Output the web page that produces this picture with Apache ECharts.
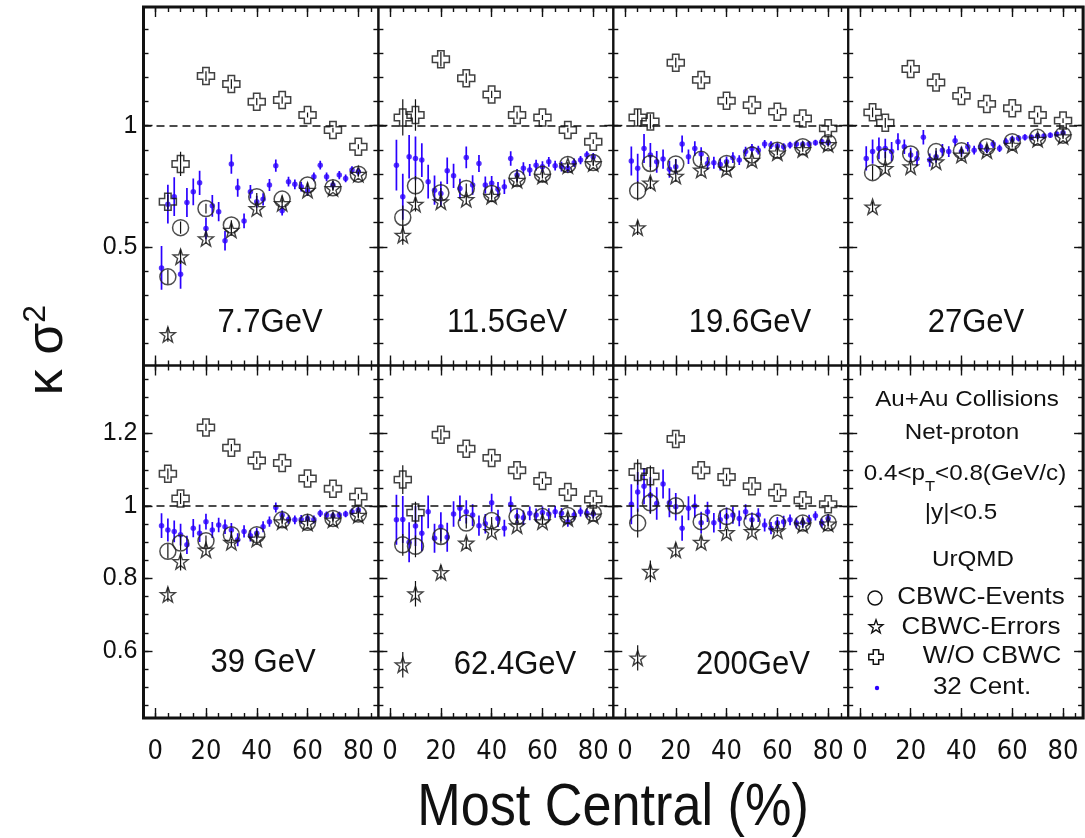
<!DOCTYPE html>
<html><head><meta charset="utf-8">
<script src="https://cdn.jsdelivr.net/npm/echarts@6/dist/echarts.min.js"></script>
<style>html,body{margin:0;padding:0;background:#fff}#c{width:1085px;height:838px}</style>
</head><body><div id="c"></div>
<script>
// ---------------- DATA ----------------
const centBins = [5, 10, 20, 30, 40, 50, 60, 70, 80];
const cent32 = [2.5, 5, 7.5, 10, 12.5, 15, 17.5, 20, 22.5, 25, 27.5, 30, 32.5, 35, 37.5, 40,
                42.5, 45, 47.5, 50, 52.5, 55, 57.5, 60, 62.5, 65, 67.5, 70, 72.5, 75, 77.5, 80];
const energyLabels = ['7.7GeV', '11.5GeV', '19.6GeV', '27GeV', '39 GeV', '62.4GeV', '200GeV'];
const xMajorTicks = [0, 20, 40, 60, 80];
const xMinorTicks = [0, 5, 10, 15, 20, 25, 30, 35, 40, 45, 50, 55, 60, 65, 70, 75, 80, 85];
const yTopLabels = [0.5, 1];
const yTopTicks = [0.1, 0.2, 0.3, 0.4, 0.5, 0.6, 0.7, 0.8, 0.9, 1.0, 1.1, 1.2, 1.3, 1.4];
const yBotLabels = [0.6, 0.8, 1, 1.2];
const yBotTicks = [0.45, 0.5, 0.55, 0.6, 0.65, 0.7, 0.75, 0.8, 0.85, 0.9, 0.95, 1.0, 1.05, 1.1, 1.15, 1.2, 1.25, 1.3, 1.35];

// 7.7 GeV
const ev_7p7 = [0.376, 0.579, 0.658, 0.590, 0.707, 0.697, 0.755, 0.744, 0.800];
const evErr_7p7 = [0.03, 0.025, 0.02, 0.02, 0.015, 0.015, 0.01, 0.01, 0.01];
const er_7p7 = [0.138, 0.459, 0.534, 0.569, 0.658, 0.679, 0.734, 0.741, 0.800];
const erErr_7p7 = [0.03, 0.03, 0.02, 0.02, 0.015, 0.015, 0.01, 0.01, 0.01];
const wo_7p7 = [0.686, 0.842, 1.205, 1.172, 1.099, 1.106, 1.044, 0.982, 0.913];
const woErr_7p7 = [0.03, 0.05, 0.02, 0.02, 0.015, 0.015, 0.01, 0.01, 0.01];
const c32_7p7 = [0.413, 0.676, 0.707, 0.387, 0.683, 0.727, 0.764, 0.576, 0.669, 0.645, 0.525, 0.842, 0.744, 0.607, 0.727, 0.686,
                 0.696, 0.755, 0.835, 0.649, 0.769, 0.758, 0.748, 0.731, 0.789, 0.837, 0.789, 0.755, 0.796, 0.782, 0.817, 0.810];
const c32Err_7p7 = [0.09, 0.08, 0.08, 0.06, 0.06, 0.055, 0.05, 0.045, 0.045, 0.04, 0.04, 0.04, 0.037, 0.03, 0.028, 0.025,
                    0.025, 0.025, 0.025, 0.02, 0.02, 0.02, 0.02, 0.02, 0.018, 0.018, 0.018, 0.017, 0.017, 0.016, 0.016, 0.015];

// 11.5 GeV
const ev_11p5 = [0.621, 0.752, 0.723, 0.741, 0.720, 0.782, 0.800, 0.840, 0.848];
const evErr_11p5 = [0.05, 0.04, 0.02, 0.02, 0.015, 0.015, 0.01, 0.01, 0.01];
const er_11p5 = [0.548, 0.676, 0.686, 0.696, 0.709, 0.775, 0.792, 0.835, 0.844];
const erErr_11p5 = [0.04, 0.03, 0.02, 0.02, 0.015, 0.015, 0.01, 0.01, 0.01];
const wo_11p5 = [1.034, 1.044, 1.274, 1.196, 1.129, 1.044, 1.034, 0.982, 0.934];
const woErr_11p5 = [0.075, 0.065, 0.03, 0.02, 0.015, 0.015, 0.01, 0.01, 0.01];
const c32_11p5 = [0.837, 0.707, 0.872, 0.865, 0.858, 0.769, 0.734, 0.720, 0.814, 0.793, 0.741, 0.869, 0.755, 0.844, 0.755, 0.762,
                  0.738, 0.748, 0.865, 0.796, 0.824, 0.817, 0.837, 0.831, 0.851, 0.835, 0.831, 0.824, 0.847, 0.858, 0.879, 0.872];
const c32Err_11p5 = [0.105, 0.095, 0.09, 0.09, 0.07, 0.07, 0.06, 0.05, 0.055, 0.05, 0.04, 0.045, 0.04, 0.035, 0.035, 0.03,
                     0.03, 0.03, 0.03, 0.025, 0.025, 0.025, 0.022, 0.022, 0.02, 0.02, 0.02, 0.018, 0.018, 0.017, 0.016, 0.015];

// 19.6 GeV
const ev_19p6 = [0.731, 0.844, 0.842, 0.861, 0.844, 0.879, 0.899, 0.913, 0.930];
const evErr_19p6 = [0.04, 0.03, 0.02, 0.015, 0.015, 0.01, 0.01, 0.01, 0.01];
const er_19p6 = [0.579, 0.764, 0.792, 0.817, 0.821, 0.858, 0.888, 0.902, 0.923];
const erErr_19p6 = [0.03, 0.025, 0.02, 0.015, 0.015, 0.01, 0.01, 0.01, 0.01];
const wo_19p6 = [1.034, 1.017, 1.260, 1.189, 1.103, 1.085, 1.058, 1.030, 0.989];
const woErr_19p6 = [0.035, 0.03, 0.02, 0.015, 0.015, 0.01, 0.01, 0.01, 0.01];
const c32_19p6 = [0.854, 0.824, 0.906, 0.879, 0.851, 0.862, 0.820, 0.831, 0.924, 0.872, 0.906, 0.883, 0.844, 0.847, 0.840, 0.851,
                  0.868, 0.858, 0.893, 0.906, 0.899, 0.924, 0.920, 0.916, 0.913, 0.920, 0.924, 0.923, 0.924, 0.930, 0.934, 0.930];
const c32Err_19p6 = [0.06, 0.06, 0.06, 0.05, 0.045, 0.04, 0.035, 0.03, 0.035, 0.03, 0.03, 0.028, 0.027, 0.025, 0.025, 0.022,
                     0.022, 0.02, 0.02, 0.018, 0.018, 0.017, 0.016, 0.015, 0.015, 0.014, 0.014, 0.013, 0.013, 0.012, 0.012, 0.012];

// 27 GeV
const ev_27 = [0.806, 0.872, 0.883, 0.893, 0.897, 0.913, 0.934, 0.952, 0.961];
const evErr_27 = [0.03, 0.02, 0.015, 0.015, 0.01, 0.01, 0.01, 0.01, 0.01];
const er_27 = [0.665, 0.824, 0.831, 0.851, 0.879, 0.897, 0.920, 0.944, 0.955];
const erErr_27 = [0.02, 0.02, 0.015, 0.015, 0.01, 0.01, 0.01, 0.01, 0.01];
const wo_27 = [1.055, 1.012, 1.234, 1.178, 1.123, 1.090, 1.072, 1.044, 1.021];
const woErr_27 = [0.02, 0.02, 0.015, 0.015, 0.01, 0.01, 0.01, 0.01, 0.01];
const c32_27 = [0.865, 0.893, 0.906, 0.906, 0.893, 0.934, 0.913, 0.879, 0.865, 0.952, 0.858, 0.872, 0.899, 0.893, 0.938, 0.893,
                0.913, 0.899, 0.913, 0.902, 0.924, 0.906, 0.934, 0.944, 0.948, 0.952, 0.952, 0.957, 0.957, 0.961, 0.966, 0.971];
const c32Err_27 = [0.05, 0.05, 0.045, 0.04, 0.04, 0.035, 0.03, 0.03, 0.03, 0.03, 0.027, 0.025, 0.025, 0.022, 0.022, 0.02,
                   0.02, 0.018, 0.018, 0.016, 0.016, 0.015, 0.015, 0.014, 0.013, 0.013, 0.012, 0.012, 0.011, 0.011, 0.01, 0.01];

// 39 GeV
const ev_39 = [0.875, 0.898, 0.904, 0.921, 0.921, 0.962, 0.955, 0.966, 0.978];
const evErr_39 = [0.02, 0.02, 0.015, 0.01, 0.01, 0.008, 0.008, 0.008, 0.008];
const er_39 = [0.756, 0.847, 0.879, 0.900, 0.909, 0.957, 0.953, 0.962, 0.975];
const erErr_39 = [0.02, 0.025, 0.015, 0.01, 0.01, 0.008, 0.008, 0.008, 0.008];
const wo_39 = [1.089, 1.021, 1.217, 1.161, 1.126, 1.119, 1.076, 1.048, 1.026];
const woErr_39 = [0.015, 0.015, 0.01, 0.01, 0.01, 0.008, 0.008, 0.008, 0.008];
const c32_39 = [0.946, 0.934, 0.930, 0.921, 0.893, 0.939, 0.925, 0.957, 0.934, 0.948, 0.943, 0.934, 0.907, 0.930, 0.918, 0.925,
                0.943, 0.957, 0.996, 0.975, 0.963, 0.962, 0.963, 0.966, 0.963, 0.980, 0.975, 0.973, 0.975, 0.978, 0.984, 0.989];
const c32Err_39 = [0.034, 0.032, 0.03, 0.03, 0.025, 0.025, 0.024, 0.022, 0.022, 0.02, 0.02, 0.019, 0.018, 0.017, 0.016, 0.015,
                   0.015, 0.014, 0.014, 0.013, 0.012, 0.012, 0.012, 0.011, 0.011, 0.01, 0.01, 0.01, 0.009, 0.009, 0.009, 0.008];

// 62.4 GeV
const ev_62p4 = [0.893, 0.889, 0.916, 0.953, 0.960, 0.971, 0.971, 0.974, 0.980];
const evErr_62p4 = [0.03, 0.03, 0.02, 0.015, 0.01, 0.01, 0.008, 0.008, 0.008];
const er_62p4 = [0.562, 0.758, 0.817, 0.898, 0.930, 0.946, 0.957, 0.966, 0.973];
const erErr_62p4 = [0.035, 0.035, 0.02, 0.015, 0.01, 0.01, 0.008, 0.008, 0.008];
const wo_62p4 = [1.073, 0.982, 1.197, 1.158, 1.133, 1.099, 1.069, 1.039, 1.018];
const woErr_62p4 = [0.04, 0.03, 0.015, 0.01, 0.01, 0.01, 0.008, 0.008, 0.008];
const c32_62p4 = [0.962, 0.963, 0.900, 0.945, 0.925, 0.984, 0.911, 0.943, 0.914, 0.978, 0.994, 0.984, 0.975, 0.946, 0.951, 1.009,
                  0.966, 0.939, 1.005, 0.971, 0.968, 0.980, 0.975, 0.982, 0.978, 0.984, 0.980, 0.957, 0.975, 0.984, 0.980, 0.978];
const c32Err_62p4 = [0.069, 0.065, 0.055, 0.055, 0.05, 0.045, 0.04, 0.04, 0.04, 0.035, 0.035, 0.032, 0.03, 0.028, 0.027, 0.025,
                     0.024, 0.023, 0.022, 0.02, 0.02, 0.019, 0.018, 0.017, 0.016, 0.016, 0.015, 0.014, 0.014, 0.013, 0.013, 0.012];

// 200 GeV
const ev_200 = [0.953, 1.009, 1.001, 0.957, 0.971, 0.957, 0.953, 0.953, 0.954];
const evErr_200 = [0.04, 0.03, 0.02, 0.015, 0.01, 0.01, 0.008, 0.008, 0.008];
const er_200 = [0.581, 0.820, 0.879, 0.900, 0.927, 0.930, 0.932, 0.948, 0.951];
const erErr_200 = [0.035, 0.03, 0.02, 0.015, 0.01, 0.01, 0.008, 0.008, 0.008];
const wo_200 = [1.094, 1.082, 1.185, 1.099, 1.080, 1.055, 1.037, 1.016, 1.005];
const woErr_200 = [0.035, 0.03, 0.015, 0.01, 0.01, 0.01, 0.008, 0.008, 0.008];
const c32_200 = [1.005, 1.039, 1.055, 1.030, 1.007, 1.061, 1.009, 0.998, 0.939, 0.994, 1.000, 0.954, 0.984, 0.954, 0.962, 0.971,
                 0.975, 0.966, 0.984, 0.962, 0.975, 0.948, 0.939, 0.953, 0.957, 0.962, 0.953, 0.954, 0.962, 0.973, 0.953, 0.966];
const c32Err_200 = [0.055, 0.055, 0.05, 0.05, 0.045, 0.04, 0.04, 0.038, 0.035, 0.033, 0.032, 0.03, 0.028, 0.027, 0.026, 0.025,
                    0.024, 0.022, 0.021, 0.02, 0.019, 0.018, 0.017, 0.017, 0.016, 0.015, 0.015, 0.014, 0.014, 0.013, 0.013, 0.012];

const panels = [
  {label: energyLabels[0], ev: ev_7p7, evErr: evErr_7p7, er: er_7p7, erErr: erErr_7p7, wo: wo_7p7, woErr: woErr_7p7, c32: c32_7p7, c32Err: c32Err_7p7},
  {label: energyLabels[1], ev: ev_11p5, evErr: evErr_11p5, er: er_11p5, erErr: erErr_11p5, wo: wo_11p5, woErr: woErr_11p5, c32: c32_11p5, c32Err: c32Err_11p5},
  {label: energyLabels[2], ev: ev_19p6, evErr: evErr_19p6, er: er_19p6, erErr: erErr_19p6, wo: wo_19p6, woErr: woErr_19p6, c32: c32_19p6, c32Err: c32Err_19p6},
  {label: energyLabels[3], ev: ev_27, evErr: evErr_27, er: er_27, erErr: erErr_27, wo: wo_27, woErr: woErr_27, c32: c32_27, c32Err: c32Err_27},
  {label: energyLabels[4], ev: ev_39, evErr: evErr_39, er: er_39, erErr: erErr_39, wo: wo_39, woErr: woErr_39, c32: c32_39, c32Err: c32Err_39},
  {label: energyLabels[5], ev: ev_62p4, evErr: evErr_62p4, er: er_62p4, erErr: erErr_62p4, wo: wo_62p4, woErr: woErr_62p4, c32: c32_62p4, c32Err: c32Err_62p4},
  {label: energyLabels[6], ev: ev_200, evErr: evErr_200, er: er_200, erErr: erErr_200, wo: wo_200, woErr: woErr_200, c32: c32_200, c32Err: c32Err_200}
];

// ---------------- LAYOUT / STYLE ----------------
const FONT = 'Liberation Sans, Arial, Helvetica, sans-serif';
const NARROW = '"Liberation Sans Narrow", "Arial Narrow", "DejaVu Sans Condensed", sans-serif';
const BLUE = '#2a00ff';
const INK = '#111';
const GRID_LEFT = 143.5, PANEL_W = 234.9;
const ROWS = [{top: 7, height: 358.5, min: 0.01, max: 1.49, ticks: yTopTicks, labels: yTopLabels},
              {top: 365.5, height: 352.5, min: 0.415, max: 1.388, ticks: yBotTicks, labels: yBotLabels}];
const X_MIN = -4.6, X_MAX = 87.9;
const STAR_PTS = [[0, -10], [2.351, -3.236], [9.511, -3.09], [3.804, 1.236], [5.878, 8.09], [0, 4], [-5.878, 8.09], [-3.804, 1.236], [-9.511, -3.09], [-2.351, -3.236]];
const CROSS_PTS = [[-3.4, -9], [3.4, -9], [3.4, -3.4], [9, -3.4], [9, 3.4], [3.4, 3.4], [3.4, 9], [-3.4, 9], [-3.4, 3.4], [-9, 3.4], [-9, -3.4], [-3.4, -3.4]];
function toPath(pts) { return 'path://' + pts.map((p, i) => (i ? 'L' : 'M') + p[0] + ',' + p[1]).join(' ') + ' Z'; }
const STAR = toPath(STAR_PTS);
const CROSS = toPath(CROSS_PTS);
const labelPos = [[270, 323], [507, 323], [750, 323], [976, 323], [263, 663], [515, 665], [753, 665]];

const grids = [], xAxes = [], yAxes = [], series = [], graphics = [];

function tickStyle(len, vals) {
  return {show: true, inside: true, length: len, customValues: vals, lineStyle: {color: INK, width: 1.4}};
}

for (let g = 0; g < 8; g++) {
  const row = g < 4 ? 0 : 1, col = g % 4;
  const R = ROWS[row];
  grids.push({left: GRID_LEFT + col * PANEL_W, top: R.top, width: PANEL_W, height: R.height,
              show: true, borderColor: INK, borderWidth: 2, backgroundColor: 'transparent', containLabel: false});
  const xb = {type: 'value', gridIndex: g, min: X_MIN, max: X_MAX, splitLine: {show: false},
              axisLine: {show: false, onZero: false}};
  xAxes.push(Object.assign({}, xb, {position: 'bottom', axisTick: tickStyle(10, xMajorTicks),
    axisLabel: {show: row === 1, customValues: xMajorTicks, margin: 20, color: INK, fontSize: 27, fontFamily: NARROW}}));
  xAxes.push(Object.assign({}, xb, {position: 'bottom', axisTick: tickStyle(5, xMinorTicks), axisLabel: {show: false}}));
  xAxes.push(Object.assign({}, xb, {position: 'top', axisTick: tickStyle(10, xMajorTicks), axisLabel: {show: false}}));
  xAxes.push(Object.assign({}, xb, {position: 'top', axisTick: tickStyle(5, xMinorTicks), axisLabel: {show: false}}));
  const yb = {type: 'value', gridIndex: g, min: R.min, max: R.max, splitLine: {show: false},
              axisLine: {show: false, onZero: false}};
  yAxes.push(Object.assign({}, yb, {position: 'left', axisTick: tickStyle(9, R.labels),
    axisLabel: {show: col === 0, customValues: R.labels, margin: 6, color: INK, fontSize: 25, fontFamily: FONT}}));
  yAxes.push(Object.assign({}, yb, {position: 'left', axisTick: tickStyle(5, R.ticks), axisLabel: {show: false}}));
  yAxes.push(Object.assign({}, yb, {position: 'right', axisTick: tickStyle(9, R.labels), axisLabel: {show: false}}));
  yAxes.push(Object.assign({}, yb, {position: 'right', axisTick: tickStyle(5, R.ticks), axisLabel: {show: false}}));
}

function errRender(color, width) {
  return function (params, api) {
    const x = api.value(0), y = api.value(1), e = api.value(2);
    const p1 = api.coord([x, y - e]), p2 = api.coord([x, y + e]);
    return {type: 'line', shape: {x1: p1[0], y1: p1[1], x2: p2[0], y2: p2[1]},
            style: {stroke: color, lineWidth: width}};
  };
}
function triples(xs, ys, es) { return xs.map((x, i) => [x, ys[i], es[i]]); }

panels.forEach((p, g) => {
  const ax = {xAxisIndex: 4 * g, yAxisIndex: 4 * g};
  series.push(Object.assign({type: 'custom', name: '32 Cent. err', renderItem: errRender(BLUE, 1.7), clip: true,
    encode: {x: 0, y: 1}, data: triples(cent32, p.c32, p.c32Err), z: 2, silent: true}, ax));
  series.push(Object.assign({type: 'scatter', name: '32 Cent.', symbol: 'circle', symbolSize: 5.5,
    itemStyle: {color: BLUE}, data: cent32.map((x, i) => [x, p.c32[i]]), z: 3, silent: true,
    markLine: {silent: true, symbol: 'none', label: {show: false},
      lineStyle: {color: INK, type: [8, 5], width: 1.5}, data: [{yAxis: 1}]}}, ax));
  [['ev', 'evErr'], ['er', 'erErr'], ['wo', 'woErr']].forEach(k => {
    series.push(Object.assign({type: 'custom', name: k[0] + ' err', renderItem: errRender(INK, 1.2), clip: true,
      encode: {x: 0, y: 1}, data: triples(centBins, p[k[0]], p[k[1]]), z: 4, silent: true}, ax));
  });
  series.push(Object.assign({type: 'scatter', name: 'CBWC-Events', symbol: 'circle', symbolSize: 16,
    itemStyle: {color: 'rgba(0,0,0,0)', borderColor: '#222', borderWidth: 1.5},
    data: centBins.map((x, i) => [x, p.ev[i]]), z: 5, silent: true}, ax));
  series.push(Object.assign({type: 'scatter', name: 'CBWC-Errors', symbol: STAR, symbolSize: 15,
    itemStyle: {color: 'rgba(0,0,0,0)', borderColor: INK, borderWidth: 1.4},
    data: centBins.map((x, i) => [x, p.er[i]]), z: 5, silent: true}, ax));
  series.push(Object.assign({type: 'scatter', name: 'W/O CBWC', symbol: CROSS, symbolSize: 17,
    itemStyle: {color: 'rgba(0,0,0,0)', borderColor: INK, borderWidth: 1.5},
    data: centBins.map((x, i) => [x, p.wo[i]]), z: 5, silent: true}, ax));

  graphics.push({type: 'text', x: labelPos[g][0], y: labelPos[g][1], scaleX: 0.94, z: 10,
    style: {text: p.label, fill: INK, font: '33px ' + FONT, align: 'center', verticalAlign: 'middle'}});
});

// outer frame
graphics.push({type: 'rect', shape: {x: GRID_LEFT, y: 7, width: 4 * PANEL_W, height: 711}, z: 20,
  style: {fill: 'none', stroke: INK, lineWidth: 3}});

// Axis titles
graphics.push({type: 'text', x: 48, y: 350, rotation: Math.PI / 2, z: 10,
  style: {text: '{a|κ σ}{s|2}', align: 'center', verticalAlign: 'middle', fill: INK,
    rich: {a: {fontSize: 52, fontFamily: FONT, lineHeight: 56, fill: INK},
           s: {fontSize: 32, fontFamily: FONT, lineHeight: 32, verticalAlign: 'top', fill: INK}}}});
graphics.push({type: 'text', x: 613, y: 808, scaleX: 0.87, z: 10,
  style: {text: 'Most Central (%)', fill: INK, font: '60px ' + FONT, align: 'center', verticalAlign: 'middle'}});

// Info / legend panel
const infoLines = [['Au+Au Collisions', 967, 400], ['Net-proton', 962, 433], ['|y|<0.5', 961, 513], ['UrQMD', 973, 560]];
infoLines.forEach(t => graphics.push({type: 'text', x: t[1], y: t[2], scaleX: 1.1, z: 10,
  style: {text: t[0], fill: INK, font: '22px ' + FONT, align: 'center', verticalAlign: 'middle'}}));
graphics.push({type: 'text', x: 965, y: 474, scaleX: 1.1, z: 10,
  style: {text: '{a|0.4<p}{s|T}{a|<0.8(GeV/c)}', align: 'center', verticalAlign: 'middle', fill: INK,
    rich: {a: {fontSize: 22, fontFamily: FONT, lineHeight: 40, verticalAlign: 'middle', fill: INK},
           s: {fontSize: 15, fontFamily: FONT, lineHeight: 16, verticalAlign: 'bottom', fill: INK}}}});
const legendRows = [['CBWC-Events', 981, 598], ['CBWC-Errors', 981, 628], ['W/O CBWC', 992, 657], ['32 Cent.', 982, 688]];
legendRows.forEach(t => graphics.push({type: 'text', x: t[1], y: t[2], scaleX: 1.13, z: 10,
  style: {text: t[0], fill: INK, font: '23px ' + FONT, align: 'center', verticalAlign: 'middle'}}));
function placePts(pts, cx, cy, s) { return pts.map(p => [cx + p[0] * s, cy + p[1] * s]); }
graphics.push({type: 'circle', shape: {cx: 875, cy: 598, r: 7}, z: 10, style: {fill: 'none', stroke: INK, lineWidth: 1.5}});
graphics.push({type: 'polygon', z: 10, shape: {points: placePts(STAR_PTS, 876, 627, 0.72)},
  style: {fill: 'none', stroke: INK, lineWidth: 1.4}});
graphics.push({type: 'polygon', z: 10, shape: {points: placePts(CROSS_PTS, 876, 657, 0.8)},
  style: {fill: 'none', stroke: INK, lineWidth: 1.5}});
graphics.push({type: 'circle', shape: {cx: 877, cy: 688, r: 2.2}, z: 10, style: {fill: BLUE}});

const chart = echarts.init(document.getElementById('c'));
chart.setOption({
  animation: false,
  backgroundColor: '#fff',
  grid: grids, xAxis: xAxes, yAxis: yAxes, series: series, graphic: graphics
});
</script></body></html>
